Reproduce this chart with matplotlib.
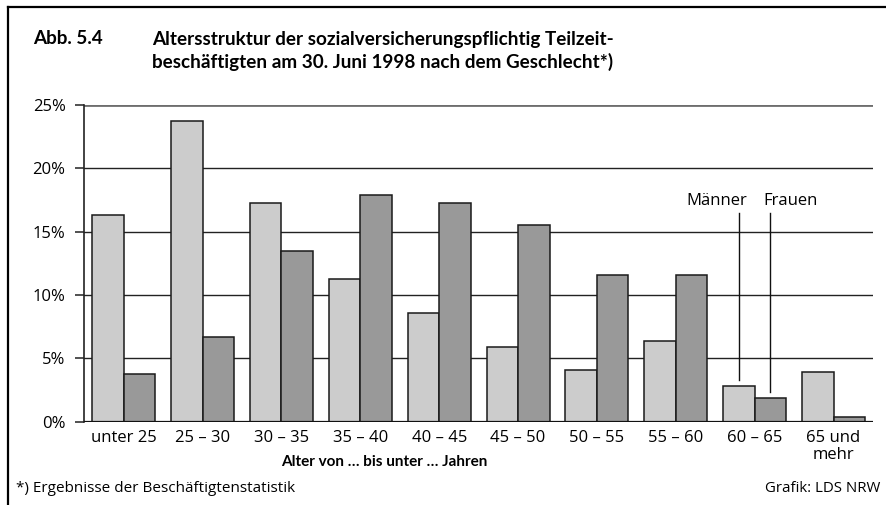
import matplotlib.pyplot as plt
from matplotlib.lines import Line2D
import numpy as np

plt.rcParams["font.family"] = ["Open Sans", "DejaVu Sans"]
BOLD = ["Lato", "DejaVu Sans"]

# Anteile der Altersgruppen in %
altersgruppen = ["unter 25", "25 – 30", "30 – 35", "35 – 40", "40 – 45",
                 "45 – 50", "50 – 55", "55 – 60", "60 – 65", "65 und\nmehr"]
maenner = [16.3, 23.7, 17.3, 11.3, 8.6, 5.9, 4.1, 6.4, 2.8, 3.9]
frauen = [3.8, 6.7, 13.5, 17.9, 17.3, 15.5, 11.6, 11.6, 1.9, 0.4]
y_ticks = [0, 5, 10, 15, 20, 25]
y_labels = ["0%", "5%", "10%", "15%", "20%", "25%"]

fig = plt.figure(figsize=(8.87, 5.05), dpi=100)
ax = fig.add_axes([0.095, 0.165, 0.8892, 0.6271])

x = np.arange(len(altersgruppen))
w = 0.4
ax.bar(x - w / 2, maenner, w, color="#cccccc", edgecolor="#1a1a1a", linewidth=1.1, zorder=3)
ax.bar(x + w / 2, frauen, w, color="#999999", edgecolor="#1a1a1a", linewidth=1.1, zorder=3)

ax.set_xlim(-0.5, len(altersgruppen) - 0.5)
ax.set_ylim(0, 25)
ax.set_yticks(y_ticks)
ax.set_yticklabels(y_labels, fontsize=12)
ax.set_xticks(x)
ax.set_xticklabels(altersgruppen, fontsize=12, linespacing=1.05, va="top")
ax.tick_params(axis="x", length=0, pad=6)
ax.tick_params(axis="y", length=6.5, width=1.2, color="#333333", pad=7)

for v in y_ticks[1:-1]:
    ax.axhline(v, color="#222222", lw=1.0, zorder=1)
ax.axhline(25, color="#6e6e6e", lw=2.0, zorder=1)
ax.axhline(0, color="#111111", lw=1.6, zorder=4)

for s in ["top", "right", "bottom"]:
    ax.spines[s].set_visible(False)
ax.spines["left"].set_color("#222222")
ax.spines["left"].set_linewidth(1.2)

# Legende mit Hinweislinien auf die Balken von 60 – 65
i = 8
ax.plot([x[i] - w / 2] * 2, [maenner[i] + 0.5, 16.5], color="#111111", lw=1.0, zorder=5)
ax.plot([x[i] + w / 2] * 2, [frauen[i] + 0.45, 16.5], color="#111111", lw=1.0, zorder=5)
ax.text(x[i] - w / 2 + 0.11, 17.45, "Männer", ha="right", va="center", fontsize=12)
ax.text(x[i] + w / 2 - 0.09, 17.45, "Frauen", ha="left", va="center", fontsize=12)

ax.set_xlabel("Alter von … bis unter … Jahren", fontsize=11, fontweight="bold", family=BOLD)
ax.xaxis.set_label_coords(0.38, -0.105)

# Titelblock
title_kw = dict(fontsize=13.6, fontweight="bold", va="center", family=BOLD)
fig.text(33 / 887, 1 - 39 / 505, "Abb. 5.4", **title_kw)
fig.text(152 / 887, 1 - 39 / 505, "Altersstruktur der sozialversicherungspflichtig Teilzeit-", **title_kw)
fig.text(152 / 887, 1 - 62 / 505, "beschäftigten am 30. Juni 1998 nach dem Geschlecht*)", **title_kw)

fig.text(16 / 887, 1 - 489 / 505, "*) Ergebnisse der Beschäftigtenstatistik", fontsize=11, va="center")
fig.text(880 / 887, 1 - 489 / 505, "Grafik: LDS NRW", fontsize=10.8, va="center", ha="right")

# Rahmen links und oben
fig.add_artist(Line2D([8 / 887, 8 / 887], [0, 1 - 7 / 505], color="black", lw=1.6))
fig.add_artist(Line2D([8 / 887, 1], [1 - 7 / 505, 1 - 7 / 505], color="black", lw=1.6))

fig.savefig("out.png", dpi=100)
